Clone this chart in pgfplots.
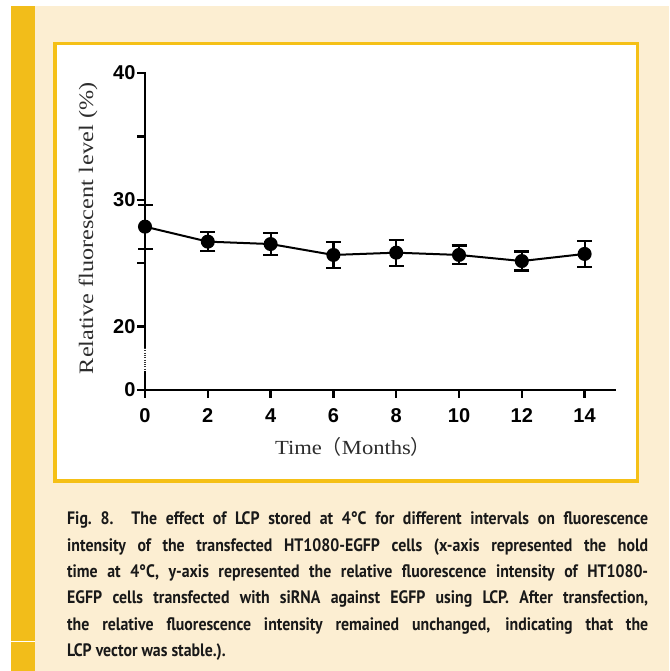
\documentclass[border=0pt]{standalone}
\usepackage{pgfplots}
\pgfplotsset{compat=1.18}
\usepackage{fontspec}
\newfontfamily\tickfont{Liberation Sans}
\newfontfamily\xlabfont{Liberation Serif}[FakeStretch=1.13]
\newfontfamily\ylabfont{Liberation Serif}[FakeStretch=1.18]
\newfontfamily\cjk{Noto Sans CJK SC}
\newfontfamily\capfont{PT Sans}[FakeStretch=0.88]
\definecolor{cream}{RGB}{252,238,210}
\definecolor{goldbar}{RGB}{242,189,26}
\definecolor{goldbox}{RGB}{245,192,22}
\definecolor{labgray}{RGB}{45,45,45}
\definecolor{captext}{RGB}{25,25,25}
\begin{document}
\begin{tikzpicture}
\path[use as bounding box] (0,0) rectangle (669pt,671pt);
\fill[white] (0,0) rectangle (669pt,671pt);
\fill[cream] (11pt,0) rectangle (669pt,665pt);
\fill[goldbar] (11pt,0) rectangle (35pt,665pt);
\draw[white, line width=0.8pt] (11pt,29.3pt) -- (35pt,29.3pt);
\draw[goldbox, line width=3.5pt, fill=white] (54.75pt,189.75pt) rectangle (637.25pt,627.25pt);
\begin{axis}[
  at={(145pt,281pt)}, anchor=south west,
  scale only axis, width=471pt, height=317pt,
  xmin=0, xmax=15, ymin=15, ymax=40,
  axis lines=left,
  axis line style={-, line width=2.4pt, black},
  y axis line style={draw=none},
  xtick={0,2,4,6,8,10,12,14},
  ytick={15,20,25,30,35,40},
  yticklabels={0,20,,30,,40},
  tick align=outside,
  major tick length=8pt,
  tick style={line width=2.4pt, black},
  /pgf/number format/assume math mode=true,
  ticklabel style={font=\tickfont\bfseries\fontsize{20}{22}\selectfont},
  xticklabel style={yshift=-7pt},
  yticklabel style={xshift=2pt},
  clip=false,
  xlabel={Time{\cjk （}Months{\cjk ）}},
  xlabel style={font=\xlabfont\fontsize{20}{22}\selectfont, text=labgray, at={(axis description cs:0.4416,-0.202)}, anchor=base},
  ylabel={Relative fluorescent l\kern2pt evel (\%)},
  ylabel style={font=\ylabfont\fontsize{20.5}{22}\selectfont, text=labgray, at={(axis description cs:-0.121,0.51)}, anchor=center, rotate=0},
]
\draw[line width=2.4pt, line cap=rect] (axis cs:0,40) -- (axis cs:0,18.31);
\draw[line width=1.5pt, dash pattern=on 1pt off 1.3pt, black!80] (axis cs:0,18.31) -- (axis cs:0,16.42);
\draw[line width=2.4pt, line cap=rect] (axis cs:0,16.42) -- (axis cs:0,15);
\addplot[black, line width=2pt, mark=*, mark size=6pt,
  error bars/.cd, y dir=both, y explicit,
  error bar style={line width=2.2pt, black},
  error mark=-,
  error mark options={rotate=90, mark size=7.5pt, line width=2.2pt, black}]
  table[x=x, y=y, y error=e] {
x y e
0 27.88 1.74
2 26.70 0.74
4 26.51 0.88
6 25.65 1.05
8 25.83 1.02
10 25.65 0.74
12 25.17 0.75
14 25.73 1.03
};
\end{axis}
\node[anchor=base west, inner sep=0pt, text width=581pt, align=justify,
  font=\capfont\bfseries\fontsize{18}{26.3}\selectfont, text=captext]
  at (67pt,146pt) {Fig.~8.\hspace{18pt}The effect of LCP stored at 4°C for different intervals on fluorescence\linebreak
intensity of the transfected HT1080-EGFP cells (x-axis represented the hold\linebreak
time at 4°C, y-axis represented the relative fluorescence intensity of HT1080-\linebreak
EGFP cells transfected with siRNA against EGFP using LCP. After transfection,\linebreak
the relative fluorescence intensity remained unchanged, indicating that the\linebreak
LCP vector was stable.).};
\end{tikzpicture}
\end{document}
